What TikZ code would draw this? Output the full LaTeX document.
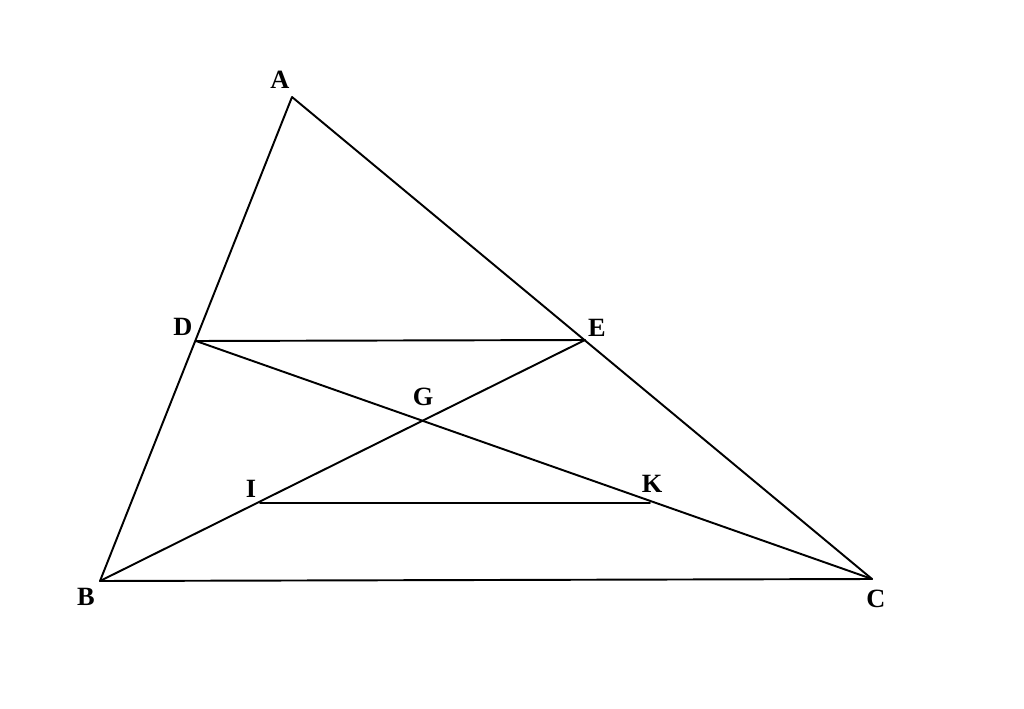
\documentclass[tikz,border=0pt]{standalone}
\usepackage{fontspec}
\setmainfont{Liberation Serif}
\begin{document}
\begin{tikzpicture}[x=0.02cm, y=-0.02cm, line width=1.1pt, line join=round, line cap=round, font=\fontsize{15}{18}\selectfont\bfseries]
	\useasboundingbox (0,0) rectangle (1024,709);
	\coordinate (A) at (292,97);
	\coordinate (B) at (100,581);
	\coordinate (C) at (872,579);
	\coordinate (D) at (196,341);
	\coordinate (E) at (585,340);
	\coordinate (G) at (423,421);
	\coordinate (I) at (260,503);
	\coordinate (K) at (650,503);
	\draw (A)--(B)--(C)--cycle;
	\draw (D)--(E);
	\draw (D)--(C);
	\draw (B)--(E);
	\draw (I)--(K);
	\node (lA) at (280,80) {A};
	\node (lB) at (86,597) {B};
	\node (lC) at (876,599) {C};
	\node (lD) at (183,327) {D};
	\node (lE) at (597,328) {E};
	\node (lG) at (423,397) {G};
	\node (lI) at (251,489) {I};
	\node (lK) at (652,484) {K};
\end{tikzpicture}
\end{document}
